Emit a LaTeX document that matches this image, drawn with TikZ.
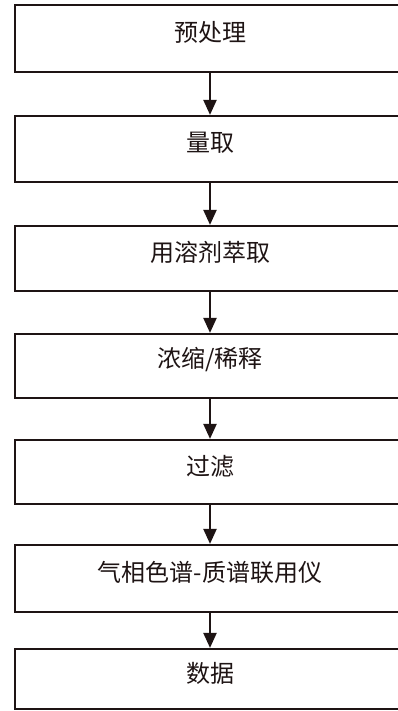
\documentclass[tikz,border=0pt]{standalone}
\usepackage{fontspec}
\newfontfamily\cjk{Noto Sans CJK SC}
\usetikzlibrary{arrows.meta}
\definecolor{ink}{HTML}{1E1414}
\tikzset{
  stepbox/.style={draw=ink, line width=2.2pt, minimum width=410pt, inner sep=0pt, fill=none},
  steptext/.style={text=ink, font=\cjk\fontsize{24pt}{27pt}\selectfont, inner sep=0pt},
  flow/.style={draw=ink, line width=2.2pt, -{Triangle[width=13pt,length=15pt]}}
}
\begin{document}
\begin{tikzpicture}[x=1pt,y=1pt]
\useasboundingbox (0,0) rectangle (398,-711);
\clip (0,0) rectangle (398,-711);
\fill[white] (0,0) rectangle (398,-711);
% boxes: center y and height (left edge at x=15, right edge beyond the picture)
\node[stepbox, minimum height=67pt] (b1) at (220,-38.5) {};
\node[stepbox, minimum height=66pt] (b2) at (220,-149) {};
\node[stepbox, minimum height=65pt] (b3) at (220,-258.5) {};
\node[stepbox, minimum height=64pt] (b4) at (220,-366) {};
\node[stepbox, minimum height=64pt] (b5) at (220,-472) {};
\node[stepbox, minimum height=67pt] (b6) at (220,-578.5) {};
\node[stepbox, minimum height=60pt] (b7) at (220,-679) {};
% texts
\node[steptext] (t1) at ([xshift=-10pt,yshift=6pt]b1.center) {预处理};
\node[steptext] (t2) at ([xshift=-10pt,yshift=6pt]b2.center) {量取};
\node[steptext] (t3) at ([xshift=-10pt,yshift=6pt]b3.center) {用溶剂萃取};
\node[steptext] (t4) at ([xshift=-10pt,yshift=6pt]b4.center) {浓缩/稀释};
\node[steptext] (t5) at ([xshift=-10pt,yshift=6pt]b5.center) {过滤};
\node[steptext] (t6) at ([xshift=-10pt,yshift=6pt]b6.center) {气相色谱-质谱联用仪};
\node[steptext] (t7) at ([xshift=-10pt,yshift=6pt]b7.center) {数据};
% arrows
\draw[flow] (b1.south -| t1) -- (b2.north -| t1);
\draw[flow] (b2.south -| t2) -- (b3.north -| t2);
\draw[flow] (b3.south -| t3) -- (b4.north -| t3);
\draw[flow] (b4.south -| t4) -- (b5.north -| t4);
\draw[flow] (b5.south -| t5) -- (b6.north -| t5);
\draw[flow] (b6.south -| t6) -- (b7.north -| t6);
\end{tikzpicture}
\end{document}
